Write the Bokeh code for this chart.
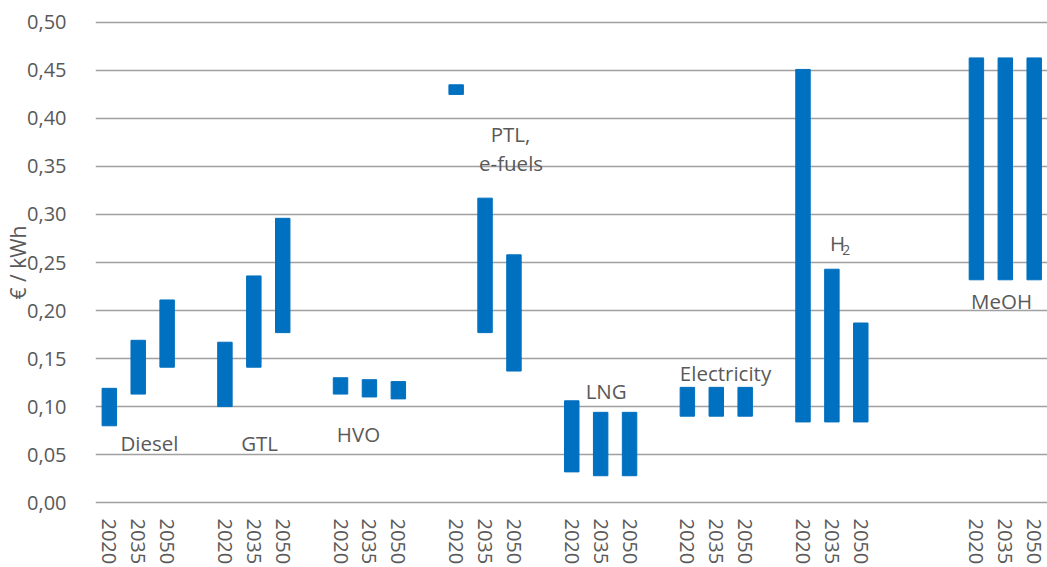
import math
from bokeh.plotting import figure
from bokeh.models import Range1d, FixedTicker, Label
from bokeh.embed import file_html
from bokeh.resources import INLINE

# ---- data ----
groups = ["Diesel", "GTL", "HVO", "PTL", "LNG", "Electricity", "H2", "MeOH"]
years = ["2020", "2035", "2050"]

low_diesel = [0.080, 0.113, 0.141]
high_diesel = [0.119, 0.169, 0.211]
low_gtl = [0.100, 0.141, 0.177]
high_gtl = [0.167, 0.236, 0.296]
low_hvo = [0.113, 0.110, 0.108]
high_hvo = [0.130, 0.128, 0.126]
low_ptl = [0.425, 0.177, 0.137]
high_ptl = [0.435, 0.317, 0.258]
low_lng = [0.032, 0.028, 0.028]
high_lng = [0.106, 0.094, 0.094]
low_elec = [0.090, 0.090, 0.090]
high_elec = [0.120, 0.120, 0.120]
low_h2 = [0.084, 0.084, 0.084]
high_h2 = [0.451, 0.243, 0.187]
low_meoh = [0.232, 0.232, 0.232]
high_meoh = [0.463, 0.463, 0.463]

y_ticks = [0.00, 0.05, 0.10, 0.15, 0.20, 0.25, 0.30, 0.35, 0.40, 0.45, 0.50]
y_tick_labels = ["0,00", "0,05", "0,10", "0,15", "0,20", "0,25", "0,30", "0,35", "0,40", "0,45", "0,50"]

lows = [low_diesel, low_gtl, low_hvo, low_ptl, low_lng, low_elec, low_h2, low_meoh]
highs = [high_diesel, high_gtl, high_hvo, high_ptl, high_lng, high_elec, high_h2, high_meoh]

# ---- slot layout: 3 bars per group, one empty slot between groups,
# two extra empty slots before MeOH ----
extra_gap = [0, 0, 0, 0, 0, 0, 0, 2]
xs, bottoms, tops, tick_lab = [], [], [], []
start = 0
group_start = []
for gi, g in enumerate(groups):
    start += extra_gap[gi]
    group_start.append(start)
    for yi, yr in enumerate(years):
        xs.append(start + yi)
        bottoms.append(lows[gi][yi])
        tops.append(highs[gi][yi])
        tick_lab.append(yr)
    start += 4

BLUE = "#0070C0"
GRAY_TXT = "#595959"
FONT = "Open Sans"

X0, X1 = -0.478, 32.46
Y0, Y1 = -0.003, 0.503

p = figure(width=1047, height=567, output_backend="svg", toolbar_location=None,
           x_range=Range1d(X0, X1), y_range=Range1d(Y0, Y1),
           min_border_left=95, min_border_right=0, min_border_top=19, min_border_bottom=61)
p.outline_line_color = None
p.background_fill_color = "white"
p.border_fill_color = "white"

p.xgrid.visible = False
p.ygrid.grid_line_color = "#a0a0a0"
p.ygrid.grid_line_width = 1.5
p.ygrid.ticker = FixedTicker(ticks=y_ticks)

p.vbar(x=xs, width=0.5, bottom=bottoms, top=tops, fill_color=BLUE, line_color=BLUE)

# y axis
p.yaxis.ticker = FixedTicker(ticks=y_ticks)
p.yaxis.major_label_overrides = {t: l for t, l in zip(y_ticks, y_tick_labels)}
p.yaxis.axis_line_color = None
p.yaxis.major_tick_line_color = None
p.yaxis.minor_tick_line_color = None
p.yaxis.major_label_standoff = 23
p.yaxis.major_label_text_font = FONT
p.yaxis.major_label_text_font_size = "20px"
p.yaxis.major_label_text_color = GRAY_TXT
p.yaxis.axis_label = "€ / kWh"
p.yaxis.axis_label_text_font = FONT
p.yaxis.axis_label_text_font_size = "21px"
p.yaxis.axis_label_text_font_style = "normal"
p.yaxis.axis_label_text_color = GRAY_TXT
p.yaxis.axis_label_standoff = -8

# x axis: year under each bar
p.xaxis.ticker = FixedTicker(ticks=xs)
p.xaxis.major_label_overrides = {t: l for t, l in zip(xs, tick_lab)}
p.xaxis.major_label_orientation = "vertical"
p.xaxis.axis_line_color = None
p.xaxis.major_tick_line_color = None
p.xaxis.minor_tick_line_color = None
p.xaxis.major_label_standoff = 7
p.xaxis.major_label_text_font = FONT
p.xaxis.major_label_text_font_size = "20px"
p.xaxis.major_label_text_color = GRAY_TXT

# category labels (positioned relative to the group's first slot)
label_specs = [
    ("Diesel", 0, 1.39, 0.0617),
    ("GTL", 1, 1.2, 0.0617),
    ("HVO", 2, 0.62, 0.0714),
    ("PTL,", 3, 1.88, 0.3835),
    ("e-fuels", 3, 1.9, 0.354),
    ("LNG", 4, 1.19, 0.1165),
    ("Electricity", 5, 1.32, 0.1353),
    ("MeOH", 7, 0.87, 0.2097),
]
for txt, gi, dx, yv in label_specs:
    p.add_layout(Label(x=group_start[gi] + dx, y=yv, text=txt, text_align="center",
                       text_baseline="middle", text_font=FONT, text_font_size="20.5px",
                       text_color=GRAY_TXT))
# H2 with subscript
p.add_layout(Label(x=group_start[6] + 1.2, y=0.27, text="H", text_align="center",
                   text_baseline="middle", text_font=FONT, text_font_size="20.5px",
                   text_color=GRAY_TXT))
p.add_layout(Label(x=group_start[6] + 1.5, y=0.2635, text="2", text_align="center",
                   text_baseline="middle", text_font=FONT, text_font_size="14px",
                   text_color=GRAY_TXT))

open("out.html", "w").write(file_html(p, INLINE))
